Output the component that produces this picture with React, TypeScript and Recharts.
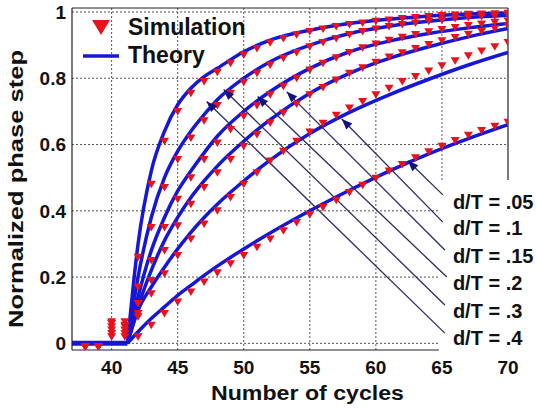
import React from 'react';
import { ComposedChart, XAxis, YAxis, Line, Scatter, ReferenceLine, ReferenceDot } from 'recharts';

// theory curves (rising part, flat at 0 before 41.2)
const theoryCycles = [41.2, 42, 43, 44, 45, 46, 47, 48, 50, 52, 55, 58, 61, 64, 67, 70];
const theory05 = [0, 0.035, 0.075, 0.11, 0.145, 0.175, 0.205, 0.233, 0.285, 0.333, 0.4, 0.462, 0.52, 0.572, 0.618, 0.66];
const theory10 = [0, 0.1, 0.17, 0.23, 0.285, 0.335, 0.38, 0.42, 0.49, 0.553, 0.633, 0.697, 0.75, 0.797, 0.84, 0.878];
const theory15 = [0, 0.11, 0.22, 0.31, 0.38, 0.44, 0.49, 0.535, 0.61, 0.675, 0.755, 0.815, 0.86, 0.895, 0.925, 0.95];
const theory20 = [0, 0.14, 0.28, 0.38, 0.46, 0.52, 0.575, 0.625, 0.7, 0.76, 0.83, 0.88, 0.912, 0.935, 0.952, 0.965];
const theory30 = [0, 0.2, 0.38, 0.5, 0.58, 0.64, 0.69, 0.735, 0.8, 0.85, 0.9, 0.935, 0.957, 0.972, 0.983, 0.99];
const theory40 = [0, 0.3, 0.52, 0.64, 0.72, 0.77, 0.805, 0.83, 0.88, 0.915, 0.945, 0.965, 0.978, 0.988, 0.994, 0.997];
const flatCycles = [37, 41.2];

// simulation, one point per cycle
const simCycles = [38, 39, 40, 41, 42, 43, 44, 45, 46, 47, 48, 49, 50, 51, 52, 53, 54, 55, 56, 57, 58, 59, 60, 61, 62, 63, 64, 65, 66, 67, 68, 69, 70];
const sim05 = [-0.01, -0.01, 0.02, 0.02, 0.02, 0.055, 0.09, 0.125, 0.155, 0.185, 0.213, 0.24, 0.265, 0.29, 0.315, 0.34, 0.365, 0.388, 0.41, 0.432, 0.455, 0.477, 0.498, 0.52, 0.54, 0.56, 0.578, 0.595, 0.612, 0.628, 0.642, 0.655, 0.667];
const sim10 = [-0.01, -0.01, 0.03, 0.03, 0.08, 0.15, 0.21, 0.265, 0.315, 0.36, 0.4, 0.44, 0.48, 0.515, 0.55, 0.58, 0.61, 0.638, 0.664, 0.688, 0.71, 0.73, 0.75, 0.77, 0.79, 0.805, 0.822, 0.838, 0.853, 0.868, 0.882, 0.895, 0.908];
const sim15 = [-0.01, -0.01, 0.04, 0.04, 0.09, 0.19, 0.28, 0.355, 0.42, 0.47, 0.515, 0.555, 0.595, 0.63, 0.665, 0.695, 0.722, 0.75, 0.772, 0.795, 0.815, 0.832, 0.848, 0.864, 0.877, 0.89, 0.902, 0.913, 0.923, 0.933, 0.942, 0.95, 0.958];
const sim20 = [-0.01, -0.01, 0.05, 0.05, 0.12, 0.25, 0.35, 0.435, 0.5, 0.555, 0.605, 0.645, 0.685, 0.718, 0.75, 0.776, 0.8, 0.825, 0.845, 0.862, 0.878, 0.892, 0.903, 0.915, 0.924, 0.932, 0.94, 0.947, 0.953, 0.959, 0.964, 0.969, 0.973];
const sim30 = [-0.01, -0.01, 0.06, 0.055, 0.17, 0.35, 0.47, 0.555, 0.62, 0.672, 0.718, 0.755, 0.788, 0.815, 0.84, 0.86, 0.878, 0.895, 0.908, 0.92, 0.932, 0.941, 0.949, 0.956, 0.962, 0.967, 0.972, 0.976, 0.98, 0.983, 0.986, 0.988, 0.99];
const sim40 = [-0.01, -0.01, 0.065, 0.065, 0.26, 0.48, 0.61, 0.7, 0.755, 0.79, 0.818, 0.845, 0.87, 0.89, 0.907, 0.92, 0.931, 0.941, 0.949, 0.956, 0.962, 0.967, 0.972, 0.976, 0.98, 0.983, 0.986, 0.989, 0.991, 0.993, 0.994, 0.995, 0.996];

const xTicks = [40, 45, 50, 55, 60, 65, 70];
const yTicks = [0, 0.2, 0.4, 0.6, 0.8, 1];

// annotation arrows (label -> curve), in data units
const arrowLabels = ['d/T = .05', 'd/T = .1', 'd/T = .15', 'd/T = .2', 'd/T = .3', 'd/T = .4'];
const arrowFrom = [[65.07, 0.448], [65.07, 0.366], [65.22, 0.282], [65.37, 0.2], [65.22, 0.116], [65.22, 0.031]];
const arrowTo = [[62.42, 0.551], [57.42, 0.677], [53.25, 0.759], [51.05, 0.745], [48.48, 0.766], [47.19, 0.73]];
const labelAt = [[65.83, 0.427], [65.83, 0.348], [65.83, 0.264], [65.83, 0.182], [65.83, 0.098], [65.83, 0.016]];

const BLUE = '#1616d6';
const RED = '#e8121c';
const NAVY = '#2b2b66';
const FONT = '"Liberation Sans", Arial, sans-serif';

const toPts = (xs: number[], ys: number[]) => xs.map((x, i) => ({ x, y: ys[i] }));

const theorySeries = [theory05, theory10, theory15, theory20, theory30, theory40];
const simSeries = [sim05, sim10, sim15, sim20, sim30, sim40];

const Tri = (props: any) => {
  const { cx, cy } = props;
  if (cx == null || cy == null) return null;
  return <path d={`M${cx - 4.5},${cy - 3.5}L${cx + 4.5},${cy - 3.5}L${cx},${cy + 4}Z`} fill={RED} />;
};

const ArrowHead = (props: any) => {
  const { cx, cy } = props;
  return <polygon points={`${cx},${cy} ${cx + 10.5},${cy + 4.5} ${cx + 4.5},${cy + 10.5}`} fill="#12127a" />;
};

const LabelText = (text: string) => (props: any) => (
  <text x={props.cx} y={props.cy} dominantBaseline="central" fontFamily={FONT} fontWeight="bold" fontSize={20} fill="#111">
    {text}
  </text>
);

const grid = { stroke: '#555', strokeDasharray: '2 2', strokeWidth: 1 };
const border = { stroke: '#222', strokeWidth: 1.2 };

export default function App() {
  return (
    <div style={{ position: 'fixed', left: 0, top: 0, width: 537, height: 411, background: '#fff' }}>
      <ComposedChart width={537} height={411} margin={{ top: 8, right: 29, bottom: 31, left: 8 }}>
        <XAxis
          type="number"
          dataKey="x"
          domain={[37, 70]}
          ticks={xTicks}
          allowDataOverflow
          axisLine={false}
          tickLine={false}
          tickSize={0}
          tickMargin={11}
          height={30}
          tick={{ fontFamily: FONT, fontWeight: 'bold', fontSize: 19, fill: '#111' }}
        />
        <YAxis
          type="number"
          dataKey="y"
          domain={[-0.02, 1.012]}
          ticks={yTicks}
          allowDataOverflow
          width={64}
          axisLine={{ stroke: '#222', strokeWidth: 1.2 }}
          tickLine={false}
          tickSize={0}
          tickMargin={6}
          tickFormatter={(v: number) => (v === 0 ? '0' : v === 1 ? '1' : v.toFixed(1))}
          tick={{ fontFamily: FONT, fontWeight: 'bold', fontSize: 19, fill: '#111' }}
        />

        {/* dotted grid, cut off where the d/T labels sit */}
        {[40, 45, 50, 55, 60].map((t) => (
          <ReferenceLine key={'gx' + t} segment={[{ x: t, y: -0.02 }, { x: t, y: 1.012 }]} {...grid} />
        ))}
        <ReferenceLine segment={[{ x: 65, y: 0.493 }, { x: 65, y: 1.012 }]} {...grid} />
        {[0, 0.2, 0.4].map((t) => (
          <ReferenceLine key={'gy' + t} segment={[{ x: 37, y: t }, { x: 64.77, y: t }]} {...grid} />
        ))}
        {[0.6, 0.8, 1].map((t) => (
          <ReferenceLine key={'gy' + t} segment={[{ x: 37, y: t }, { x: 70, y: t }]} {...grid} />
        ))}

        {/* box */}
        <ReferenceLine segment={[{ x: 37, y: -0.02 }, { x: 64.77, y: -0.02 }]} {...border} />
        <ReferenceLine segment={[{ x: 37, y: 1.012 }, { x: 70, y: 1.012 }]} {...border} />
        <ReferenceLine segment={[{ x: 70, y: 0.493 }, { x: 70, y: 1.012 }]} {...border} />

        {simSeries.map((s, i) => (
          <Scatter key={'s' + i} data={toPts(simCycles, s)} shape={<Tri />} isAnimationActive={false} />
        ))}

        <Line
          data={toPts(flatCycles, [0, 0])}
          dataKey="y"
          stroke={BLUE}
          strokeWidth={5}
          dot={false}
          isAnimationActive={false}
        />
        {theorySeries.map((s, i) => (
          <Line
            key={'t' + i}
            data={toPts(theoryCycles, s)}
            dataKey="y"
            type="monotone"
            stroke={BLUE}
            strokeWidth={3.5}
            dot={false}
            isAnimationActive={false}
          />
        ))}

        {arrowLabels.map((lab, i) => (
          <ReferenceLine
            key={'a' + i}
            segment={[{ x: arrowFrom[i][0], y: arrowFrom[i][1] }, { x: arrowTo[i][0], y: arrowTo[i][1] }]}
            stroke={NAVY}
            strokeWidth={1.3}
            ifOverflow="visible"
          />
        ))}
        {arrowLabels.map((lab, i) => (
          <ReferenceDot key={'h' + i} x={arrowTo[i][0]} y={arrowTo[i][1]} r={0} shape={<ArrowHead />} ifOverflow="visible" />
        ))}
        {arrowLabels.map((lab, i) => (
          <ReferenceDot key={'l' + i} x={labelAt[i][0]} y={labelAt[i][1]} r={0} shape={LabelText(lab)} ifOverflow="visible" />
        ))}
      </ComposedChart>

      {/* legend and axis titles */}
      <svg width={537} height={411} style={{ position: 'absolute', left: 0, top: 0, pointerEvents: 'none' }}>
        <path d="M92,20L110,20L101,35Z" fill={RED} />
        <text x={128} y={35} fontFamily={FONT} fontWeight="bold" fontSize={23} fill="#111">Simulation</text>
        <line x1={83} y1={56} x2={119} y2={56} stroke={BLUE} strokeWidth={3.5} />
        <text x={128} y={63} fontFamily={FONT} fontWeight="bold" fontSize={23} fill="#111">Theory</text>
        <text x={211} y={400} fontFamily={FONT} fontWeight="bold" fontSize={20} fill="#111" textLength={193} lengthAdjust="spacingAndGlyphs">
          Number of cycles
        </text>
        <text
          x={-328}
          y={23}
          transform="rotate(-90)"
          fontFamily={FONT}
          fontWeight="bold"
          fontSize={20}
          fill="#111"
          textLength={278}
          lengthAdjust="spacingAndGlyphs"
        >
          Normalized phase step
        </text>
      </svg>
    </div>
  );
}
